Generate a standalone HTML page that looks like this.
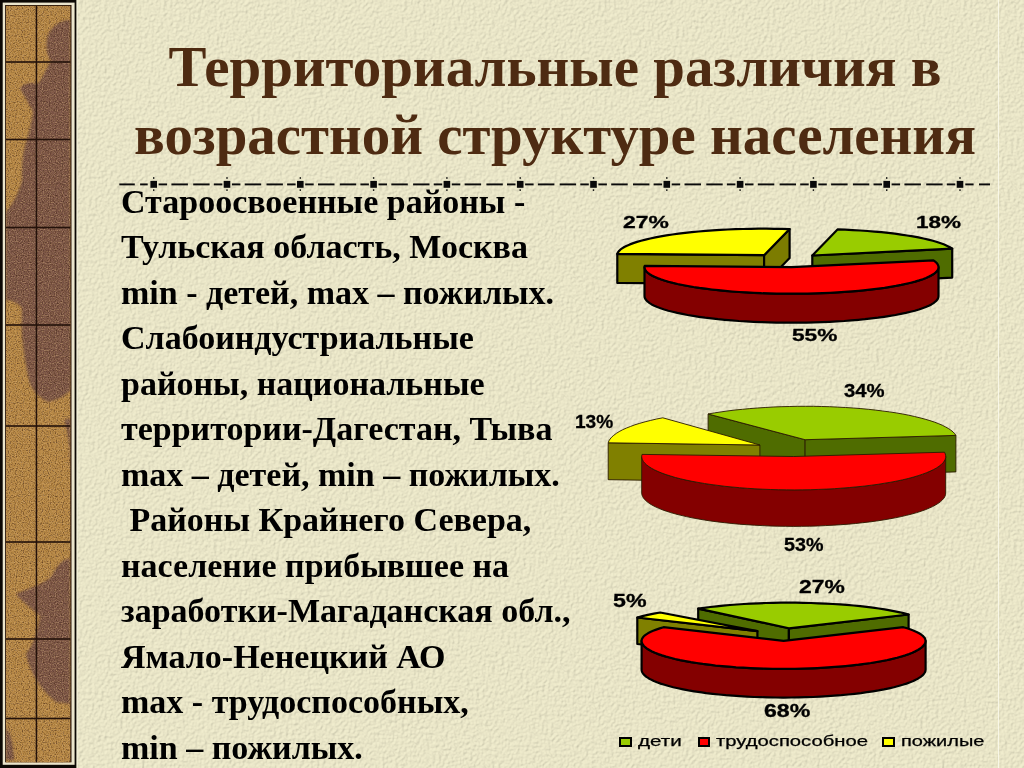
<!DOCTYPE html>
<html lang="ru">
<head>
<meta charset="utf-8">
<title>Территориальные различия в возрастной структуре населения</title>
<style>
html,body{margin:0;padding:0;}
body{width:1024px;height:768px;overflow:hidden;position:relative;background:#F3EFD0;}
svg{position:absolute;left:0;top:0;}
.title{position:absolute;left:0;width:1110px;text-align:center;font-family:"Liberation Serif","Noto Serif CJK SC",serif;font-weight:bold;font-size:56.9px;color:#4E2B12;white-space:nowrap;line-height:1;}
.t{position:absolute;left:121px;font-family:"Liberation Serif","Noto Serif CJK SC",serif;font-weight:bold;font-size:34px;color:#000;white-space:nowrap;line-height:1;}
.lb{position:absolute;font-family:"Liberation Sans","Noto Sans CJK SC",sans-serif;font-weight:bold;font-size:16px;line-height:1;color:#000;white-space:nowrap;transform-origin:0 0;-webkit-text-stroke:0.3px #000;}
.lg{position:absolute;font-family:"Liberation Sans","Noto Sans CJK SC",sans-serif;font-size:16px;line-height:1;color:#000;white-space:nowrap;transform-origin:0 0;-webkit-text-stroke:0.25px #000;}
.sq{position:absolute;border:2px solid #000;box-sizing:border-box;}
</style>
</head>
<body>
<svg id="bg" width="1024" height="768" viewBox="0 0 1024 768">
<defs>
<filter id="paper" x="0" y="0" width="1024" height="768" filterUnits="userSpaceOnUse">
<feTurbulence type="fractalNoise" baseFrequency="0.32" numOctaves="3" seed="4" result="noise"/>
<feDiffuseLighting in="noise" lighting-color="#ffffff" surfaceScale="1.3" result="light">
<feDistantLight azimuth="225" elevation="58"/>
</feDiffuseLighting>
<feFlood flood-color="#F2EECF" result="base"/>
<feComposite in="light" in2="base" operator="arithmetic" k1="0.55" k2="0" k3="0.45" k4="0"/>
</filter>
</defs>
<rect width="1024" height="768" fill="#F3EFD0" filter="url(#paper)"/>
</svg>
<div style="position:absolute;left:998px;top:0;width:1px;height:768px;background:#FAF8EA;opacity:0.9"></div>
<svg id="strip" width="78" height="768" viewBox="0 0 78 768">
<defs><filter id="gd" x="0" y="0" width="100%" height="100%"><feTurbulence type="fractalNoise" baseFrequency="0.85" numOctaves="1" seed="3" result="n"/><feColorMatrix in="n" type="matrix" values="0 0 0 0 0  0 0 0 0 0  0 0 0 0 0  -3.0 0 0 0 1.62" result="m"/><feComposite in="SourceGraphic" in2="m" operator="in"/></filter><filter id="gl" x="0" y="0" width="100%" height="100%"><feTurbulence type="fractalNoise" baseFrequency="0.85" numOctaves="1" seed="11" result="n"/><feColorMatrix in="n" type="matrix" values="0 0 0 0 0  0 0 0 0 0  0 0 0 0 0  -3.0 0 0 0 1.6" result="m"/><feComposite in="SourceGraphic" in2="m" operator="in"/></filter><filter id="soft"><feGaussianBlur stdDeviation="1.2"/></filter><clipPath id="tc"><rect x="6" y="5.9" width="64.3" height="756.4"/></clipPath></defs>
<rect x="0" y="0" width="76.6" height="768" fill="#0c0804"/>
<rect x="76.6" y="0" width="1.2" height="768" fill="#f2efd8"/>
<rect x="2.7" y="2.6" width="71.9" height="762.2" fill="#ebe5cc"/>
<rect x="5.1" y="5.0" width="66.4" height="757.3" fill="#2a160a"/>
<rect x="6.0" y="5.9" width="64.3" height="756.4" fill="#B88946"/>
<g clip-path="url(#tc)"><g filter="url(#soft)">
<path d="M70.3,20 C62,19 50,26 47,38 C45,50 48,58 52,62 L70.3,62 Z" fill="#7B5646"/>
<path d="M70.3,62 L50,62 C46,70 42,78 38,84 C31,82 24,83 20,88 C24,96 29,104 33,112 C31,124 29,133 27,140 L70.3,140 Z" fill="#7B5646"/>
<path d="M27,140 C22,152 22,166 22,180 C18,195 12,205 6,212 L6,300 C12,300 18,303 22,308 C20,330 24,360 30,384 C34,392 40,398 48,402 C58,400 66,395 71,390 L70.3,140 Z" fill="#7B5646"/>
<path d="M70.3,558 C62,560 56,566 52,576 C44,584 30,588 16,594 C24,604 34,610 40,616 C38,630 34,644 26,654 C30,672 40,690 56,702 L70.3,704 Z" fill="#7B5646"/>
<path d="M6,728 C10,732 13,740 14,760 L6,760 Z" fill="#7B5646"/>
<path d="M64,420 C68,430 70,450 70,470 L70.3,470 L70.3,418 Z" fill="#7B5646"/>
</g></g>
<rect x="6.0" y="5.9" width="64.3" height="756.4" fill="#3a1e0e" opacity="0.6" filter="url(#gd)"/>
<rect x="6.0" y="5.9" width="64.3" height="756.4" fill="#e6c08a" opacity="0.45" filter="url(#gl)"/>
<rect x="35.7" y="6" width="1.5" height="756.3" fill="#24120a"/>
<rect x="6" y="61.2" width="64.3" height="1.6" fill="#24120a"/>
<rect x="6" y="138.7" width="64.3" height="1.6" fill="#24120a"/>
<rect x="6" y="226.7" width="64.3" height="1.6" fill="#24120a"/>
<rect x="6" y="324.2" width="64.3" height="1.6" fill="#24120a"/>
<rect x="6" y="425.2" width="64.3" height="1.6" fill="#24120a"/>
<rect x="6" y="541.2" width="64.3" height="1.6" fill="#24120a"/>
<rect x="6" y="638.2" width="64.3" height="1.6" fill="#24120a"/>
<rect x="6" y="717.7" width="64.3" height="1.6" fill="#24120a"/>
</svg>

<div class="title" style="top:39.2px">Территориальные различия в</div>
<div class="title" style="top:107.2px">возрастной структуре населения</div>

<svg id="deco" width="1024" height="200" viewBox="0 0 1024 200">
<g fill="#0a0a0a">
<rect x="119.3" y="183.45" width="15.5" height="1.9"/>
<rect x="140.1" y="183.45" width="7.6" height="1.9"/>
<rect x="150.4" y="180.9" width="6.6" height="6.9"/>
<rect x="153.0" y="177.2" width="1.4" height="1.6"/>
<rect x="153.0" y="189.3" width="1.4" height="1.6"/>
<rect x="158.6" y="183.45" width="8.5" height="1.9"/>
<rect x="171.4" y="183.45" width="16.5" height="1.9"/>
<rect x="193.2" y="183.45" width="16.4" height="1.9"/>
<rect x="213.8" y="183.45" width="8.5" height="1.9"/>
<rect x="223.7" y="180.9" width="6.6" height="6.9"/>
<rect x="226.3" y="177.2" width="1.4" height="1.6"/>
<rect x="226.3" y="189.3" width="1.4" height="1.6"/>
<rect x="231.9" y="183.45" width="8.5" height="1.9"/>
<rect x="244.7" y="183.45" width="16.5" height="1.9"/>
<rect x="266.5" y="183.45" width="16.4" height="1.9"/>
<rect x="287.1" y="183.45" width="8.5" height="1.9"/>
<rect x="297.0" y="180.9" width="6.6" height="6.9"/>
<rect x="299.6" y="177.2" width="1.4" height="1.6"/>
<rect x="299.6" y="189.3" width="1.4" height="1.6"/>
<rect x="305.2" y="183.45" width="8.5" height="1.9"/>
<rect x="318.0" y="183.45" width="16.5" height="1.9"/>
<rect x="339.8" y="183.45" width="16.4" height="1.9"/>
<rect x="360.4" y="183.45" width="8.5" height="1.9"/>
<rect x="370.3" y="180.9" width="6.6" height="6.9"/>
<rect x="372.9" y="177.2" width="1.4" height="1.6"/>
<rect x="372.9" y="189.3" width="1.4" height="1.6"/>
<rect x="378.5" y="183.45" width="8.5" height="1.9"/>
<rect x="391.3" y="183.45" width="16.5" height="1.9"/>
<rect x="413.1" y="183.45" width="16.4" height="1.9"/>
<rect x="433.7" y="183.45" width="8.5" height="1.9"/>
<rect x="443.6" y="180.9" width="6.6" height="6.9"/>
<rect x="446.2" y="177.2" width="1.4" height="1.6"/>
<rect x="446.2" y="189.3" width="1.4" height="1.6"/>
<rect x="451.8" y="183.45" width="8.5" height="1.9"/>
<rect x="464.6" y="183.45" width="16.5" height="1.9"/>
<rect x="486.4" y="183.45" width="16.4" height="1.9"/>
<rect x="507.0" y="183.45" width="8.5" height="1.9"/>
<rect x="516.9" y="180.9" width="6.6" height="6.9"/>
<rect x="519.5" y="177.2" width="1.4" height="1.6"/>
<rect x="519.5" y="189.3" width="1.4" height="1.6"/>
<rect x="525.1" y="183.45" width="8.5" height="1.9"/>
<rect x="537.9" y="183.45" width="16.5" height="1.9"/>
<rect x="559.7" y="183.45" width="16.4" height="1.9"/>
<rect x="580.3" y="183.45" width="8.5" height="1.9"/>
<rect x="590.2" y="180.9" width="6.6" height="6.9"/>
<rect x="592.8" y="177.2" width="1.4" height="1.6"/>
<rect x="592.8" y="189.3" width="1.4" height="1.6"/>
<rect x="598.4" y="183.45" width="8.5" height="1.9"/>
<rect x="611.2" y="183.45" width="16.5" height="1.9"/>
<rect x="633.0" y="183.45" width="16.4" height="1.9"/>
<rect x="653.6" y="183.45" width="8.5" height="1.9"/>
<rect x="663.5" y="180.9" width="6.6" height="6.9"/>
<rect x="666.1" y="177.2" width="1.4" height="1.6"/>
<rect x="666.1" y="189.3" width="1.4" height="1.6"/>
<rect x="671.7" y="183.45" width="8.5" height="1.9"/>
<rect x="684.5" y="183.45" width="16.5" height="1.9"/>
<rect x="706.3" y="183.45" width="16.4" height="1.9"/>
<rect x="726.9" y="183.45" width="8.5" height="1.9"/>
<rect x="736.8" y="180.9" width="6.6" height="6.9"/>
<rect x="739.4" y="177.2" width="1.4" height="1.6"/>
<rect x="739.4" y="189.3" width="1.4" height="1.6"/>
<rect x="745.0" y="183.45" width="8.5" height="1.9"/>
<rect x="757.8" y="183.45" width="16.5" height="1.9"/>
<rect x="779.6" y="183.45" width="16.4" height="1.9"/>
<rect x="800.2" y="183.45" width="8.5" height="1.9"/>
<rect x="810.1" y="180.9" width="6.6" height="6.9"/>
<rect x="812.7" y="177.2" width="1.4" height="1.6"/>
<rect x="812.7" y="189.3" width="1.4" height="1.6"/>
<rect x="818.3" y="183.45" width="8.5" height="1.9"/>
<rect x="831.1" y="183.45" width="16.5" height="1.9"/>
<rect x="852.9" y="183.45" width="16.4" height="1.9"/>
<rect x="873.5" y="183.45" width="8.5" height="1.9"/>
<rect x="883.4" y="180.9" width="6.6" height="6.9"/>
<rect x="886.0" y="177.2" width="1.4" height="1.6"/>
<rect x="886.0" y="189.3" width="1.4" height="1.6"/>
<rect x="891.6" y="183.45" width="8.5" height="1.9"/>
<rect x="904.4" y="183.45" width="16.5" height="1.9"/>
<rect x="926.2" y="183.45" width="16.4" height="1.9"/>
<rect x="946.8" y="183.45" width="8.5" height="1.9"/>
<rect x="956.7" y="180.9" width="6.6" height="6.9"/>
<rect x="959.3" y="177.2" width="1.4" height="1.6"/>
<rect x="959.3" y="189.3" width="1.4" height="1.6"/>
<rect x="965.3" y="183.45" width="8.3" height="1.9"/>
<rect x="979.0" y="183.45" width="11.0" height="1.9"/>
</g></svg>

<div class="t" style="top:184.8px">Староосвоенные районы -</div>
<div class="t" style="top:230.3px">Тульская область, Москва</div>
<div class="t" style="top:275.7px">min - детей, max – пожилых.</div>
<div class="t" style="top:321.2px">Слабоиндустриальные</div>
<div class="t" style="top:366.7px">районы, национальные</div>
<div class="t" style="top:412.2px">территории-Дагестан, Тыва</div>
<div class="t" style="top:457.6px">max – детей, min – пожилых.</div>
<div class="t" style="top:503.1px">&nbsp;Районы Крайнего Севера,</div>
<div class="t" style="top:548.6px">население прибывшее на</div>
<div class="t" style="top:594.0px">заработки-Магаданская обл.,</div>
<div class="t" style="top:639.5px">Ямало-Ненецкий АО</div>
<div class="t" style="top:685.0px">max - трудоспособных,</div>
<div class="t" style="top:730.5px">min – пожилых.</div>

<svg id="charts" width="1024" height="768" viewBox="0 0 1024 768">
<path d="M764.1,255.2 L617.3,253.9 L617.3,282.9 L764.1,284.2 Z" fill="#808000" stroke="#000" stroke-width="2.2" stroke-linejoin="round"/>
<path d="M764.1,255.2 L789.6,229.1 L789.6,258.1 L764.1,284.2 Z" fill="#7C7C00" stroke="#000" stroke-width="2.2" stroke-linejoin="round"/>
<path d="M764.1,255.2 L617.3,253.9 L617.9,252.5 L618.9,251.1 L620.3,249.7 L622.1,248.4 L624.3,247.0 L626.9,245.7 L629.9,244.4 L633.3,243.1 L637.0,241.9 L641.1,240.7 L645.5,239.6 L650.3,238.5 L655.4,237.4 L660.8,236.4 L666.4,235.4 L672.4,234.5 L678.6,233.7 L685.1,232.9 L691.8,232.2 L698.6,231.5 L705.7,230.9 L712.9,230.4 L720.3,229.9 L727.8,229.5 L735.4,229.2 L743.1,229.0 L750.8,228.8 L758.6,228.7 L766.4,228.7 L774.2,228.8 L781.9,228.9 L789.6,229.1 Z" fill="#FFFF00" stroke="#000" stroke-width="2.2" stroke-linejoin="round"/>
<path d="M812.3,255.5 L952.2,248.6 L952.2,277.6 L812.3,284.5 Z" fill="#4F6C00" stroke="#000" stroke-width="2.2" stroke-linejoin="round"/>
<path d="M812.3,255.5 L837.5,229.4 L845.1,229.7 L852.7,230.1 L860.1,230.5 L867.4,231.0 L874.5,231.6 L881.5,232.2 L888.3,232.9 L894.8,233.7 L901.1,234.6 L907.1,235.5 L912.9,236.4 L918.4,237.4 L923.5,238.5 L928.4,239.6 L932.9,240.8 L937.0,242.0 L940.8,243.3 L944.3,244.5 L947.3,245.9 L950.0,247.2 L952.2,248.6 Z" fill="#99CC00" stroke="#000" stroke-width="2.2" stroke-linejoin="round"/>
<path d="M938.5,267.2 L938.3,268.6 L937.7,270.0 L936.7,271.4 L935.3,272.7 L933.5,274.1 L931.4,275.4 L928.8,276.7 L925.8,278.0 L922.5,279.2 L918.9,280.5 L914.8,281.7 L910.5,282.8 L905.8,283.9 L900.8,284.9 L895.5,286.0 L889.9,286.9 L884.1,287.8 L878.0,288.7 L871.6,289.4 L865.0,290.2 L858.3,290.8 L851.3,291.4 L844.2,292.0 L837.0,292.4 L829.6,292.8 L822.1,293.1 L814.5,293.4 L806.9,293.6 L799.2,293.7 L791.5,293.7 L783.9,293.7 L776.2,293.6 L768.6,293.4 L761.0,293.1 L753.5,292.8 L746.1,292.4 L738.9,292.0 L731.8,291.4 L724.8,290.8 L718.0,290.2 L711.5,289.4 L705.1,288.7 L699.0,287.8 L693.2,286.9 L687.6,286.0 L682.3,284.9 L677.3,283.9 L672.6,282.8 L668.3,281.7 L664.2,280.5 L660.6,279.2 L657.3,278.0 L654.3,276.7 L651.7,275.4 L649.6,274.1 L647.8,272.7 L646.4,271.4 L645.4,270.0 L644.7,268.6 L644.5,267.2 L644.5,296.2 L644.7,297.6 L645.4,299.0 L646.4,300.4 L647.8,301.7 L649.6,303.1 L651.7,304.4 L654.3,305.7 L657.3,307.0 L660.6,308.2 L664.2,309.5 L668.3,310.7 L672.6,311.8 L677.3,312.9 L682.3,313.9 L687.6,315.0 L693.2,315.9 L699.0,316.8 L705.1,317.7 L711.5,318.4 L718.0,319.2 L724.8,319.8 L731.8,320.4 L738.9,321.0 L746.1,321.4 L753.5,321.8 L761.0,322.1 L768.6,322.4 L776.2,322.6 L783.9,322.7 L791.5,322.7 L799.2,322.7 L806.9,322.6 L814.5,322.4 L822.1,322.1 L829.6,321.8 L837.0,321.4 L844.2,321.0 L851.3,320.4 L858.3,319.8 L865.0,319.2 L871.6,318.4 L878.0,317.7 L884.1,316.8 L889.9,315.9 L895.5,315.0 L900.8,313.9 L905.8,312.9 L910.5,311.8 L914.8,310.7 L918.9,309.5 L922.5,308.2 L925.8,307.0 L928.8,305.7 L931.4,304.4 L933.5,303.1 L935.3,301.7 L936.7,300.4 L937.7,299.0 L938.3,297.6 L938.5,296.2 Z" fill="#840000" stroke="#000" stroke-width="2.2" stroke-linejoin="round"/>
<path d="M791.5,267.2 L933.4,260.3 L935.2,261.6 L936.7,263.0 L937.7,264.4 L938.3,265.7 L938.5,267.1 L938.4,268.5 L937.8,269.9 L936.8,271.3 L935.4,272.6 L933.7,274.0 L931.5,275.3 L929.0,276.6 L926.0,277.9 L922.8,279.2 L919.1,280.4 L915.1,281.6 L910.8,282.7 L906.1,283.8 L901.1,284.9 L895.9,285.9 L890.3,286.8 L884.5,287.8 L878.4,288.6 L872.0,289.4 L865.5,290.1 L858.7,290.8 L851.8,291.4 L844.7,291.9 L837.5,292.4 L830.1,292.8 L822.6,293.1 L815.1,293.4 L807.4,293.6 L799.8,293.7 L792.1,293.7 L784.4,293.7 L776.7,293.6 L769.1,293.4 L761.5,293.2 L754.0,292.8 L746.6,292.4 L739.3,292.0 L732.2,291.5 L725.3,290.9 L718.5,290.2 L711.9,289.5 L705.6,288.7 L699.4,287.9 L693.6,287.0 L688.0,286.0 L682.7,285.0 L677.6,284.0 L672.9,282.9 L668.5,281.7 L664.5,280.5 L660.8,279.3 L657.5,278.1 L654.5,276.8 L651.9,275.5 L649.7,274.2 L647.9,272.8 L646.4,271.5 L645.4,270.1 L644.8,268.7 L644.5,267.3 L644.7,265.9 Z" fill="#FF0000" stroke="#000" stroke-width="2.2" stroke-linejoin="round"/>
<path d="M805.1,439.7 L708.1,414.0 L708.1,450.5 L805.1,476.2 Z" fill="#4F6C00" stroke="#2a1a00" stroke-width="0.9" stroke-linejoin="round"/>
<path d="M805.1,439.7 L955.9,435.4 L955.9,471.9 L805.1,476.2 Z" fill="#4F6C00" stroke="#2a1a00" stroke-width="0.9" stroke-linejoin="round"/>
<path d="M805.1,439.7 L708.1,414.0 L714.4,412.9 L721.1,411.9 L728.0,410.9 L735.1,410.0 L742.4,409.3 L749.8,408.6 L757.5,408.0 L765.2,407.5 L773.1,407.0 L781.1,406.7 L789.2,406.5 L797.2,406.3 L805.4,406.3 L813.5,406.3 L821.6,406.5 L829.6,406.7 L837.6,407.1 L845.5,407.5 L853.2,408.0 L860.9,408.6 L868.3,409.3 L875.6,410.1 L882.7,411.0 L889.6,411.9 L896.2,412.9 L902.6,414.0 L908.7,415.2 L914.5,416.5 L919.9,417.8 L925.1,419.2 L929.9,420.6 L934.4,422.1 L938.4,423.6 L942.2,425.2 L945.5,426.9 L948.4,428.5 L950.9,430.2 L953.0,431.9 L954.7,433.7 L955.9,435.4 Z" fill="#99CC00" stroke="#2a1a00" stroke-width="0.9" stroke-linejoin="round"/>
<path d="M759.9,445.0 L608.2,442.8 L608.2,479.7 L759.9,481.9 Z" fill="#808000" stroke="#2a1a00" stroke-width="0.9" stroke-linejoin="round"/>
<path d="M759.9,445.0 L608.2,442.8 L608.9,440.9 L610.1,439.0 L611.7,437.1 L613.8,435.3 L616.3,433.4 L619.2,431.6 L622.5,429.8 L626.3,428.1 L630.4,426.5 L634.9,424.8 L639.8,423.3 L645.1,421.8 L650.7,420.4 L656.6,419.0 L662.8,417.8 Z" fill="#FFFF00" stroke="#2a1a00" stroke-width="0.9" stroke-linejoin="round"/>
<path d="M945.7,456.5 L945.5,458.2 L944.9,460.0 L943.9,461.7 L942.4,463.4 L940.6,465.1 L938.3,466.8 L935.6,468.4 L932.6,470.1 L929.2,471.6 L925.4,473.2 L921.2,474.7 L916.7,476.1 L911.9,477.5 L906.7,478.8 L901.2,480.1 L895.4,481.3 L889.4,482.4 L883.1,483.5 L876.5,484.5 L869.7,485.4 L862.7,486.2 L855.6,487.0 L848.2,487.7 L840.7,488.2 L833.1,488.7 L825.3,489.1 L817.5,489.5 L809.6,489.7 L801.7,489.8 L793.7,489.9 L785.8,489.8 L777.8,489.7 L770.0,489.5 L762.1,489.1 L754.4,488.7 L746.8,488.2 L739.3,487.7 L731.9,487.0 L724.7,486.2 L717.7,485.4 L710.9,484.5 L704.4,483.5 L698.1,482.4 L692.0,481.3 L686.3,480.1 L680.8,478.8 L675.6,477.5 L670.8,476.1 L666.3,474.7 L662.1,473.2 L658.3,471.6 L654.9,470.1 L651.8,468.4 L649.2,466.8 L646.9,465.1 L645.1,463.4 L643.6,461.7 L642.6,460.0 L641.9,458.2 L641.7,456.5 L641.7,493.0 L641.9,494.7 L642.6,496.5 L643.6,498.2 L645.1,499.9 L646.9,501.6 L649.2,503.3 L651.8,504.9 L654.9,506.6 L658.3,508.1 L662.1,509.7 L666.3,511.2 L670.8,512.6 L675.6,514.0 L680.8,515.3 L686.3,516.6 L692.0,517.8 L698.1,518.9 L704.4,520.0 L710.9,521.0 L717.7,521.9 L724.7,522.7 L731.9,523.5 L739.3,524.2 L746.8,524.7 L754.4,525.2 L762.1,525.6 L770.0,526.0 L777.8,526.2 L785.8,526.3 L793.7,526.4 L801.7,526.3 L809.6,526.2 L817.5,526.0 L825.3,525.6 L833.1,525.2 L840.7,524.7 L848.2,524.2 L855.6,523.5 L862.7,522.7 L869.7,521.9 L876.5,521.0 L883.1,520.0 L889.4,518.9 L895.4,517.8 L901.2,516.6 L906.7,515.3 L911.9,514.0 L916.7,512.6 L921.2,511.2 L925.4,509.7 L929.2,508.1 L932.6,506.6 L935.6,504.9 L938.3,503.3 L940.6,501.6 L942.4,499.9 L943.9,498.2 L944.9,496.5 L945.5,494.7 L945.7,493.0 Z" fill="#840000" stroke="#2a1a00" stroke-width="0.9" stroke-linejoin="round"/>
<path d="M793.7,456.5 L944.5,452.2 L945.3,454.0 L945.7,455.8 L945.7,457.5 L945.2,459.3 L944.3,461.0 L943.0,462.8 L941.3,464.5 L939.1,466.2 L936.6,467.9 L933.7,469.5 L930.3,471.1 L926.6,472.7 L922.5,474.2 L918.1,475.7 L913.3,477.1 L908.2,478.5 L902.7,479.8 L897.0,481.0 L890.9,482.2 L884.6,483.2 L878.1,484.3 L871.3,485.2 L864.3,486.1 L857.0,486.8 L849.7,487.5 L842.1,488.1 L834.4,488.7 L826.6,489.1 L818.7,489.4 L810.8,489.7 L802.8,489.8 L794.8,489.9 L786.7,489.8 L778.7,489.7 L770.7,489.5 L762.8,489.2 L755.0,488.8 L747.3,488.3 L739.7,487.7 L732.3,487.0 L725.0,486.3 L718.0,485.4 L711.1,484.5 L704.5,483.5 L698.1,482.4 L692.0,481.3 L686.2,480.1 L680.6,478.8 L675.4,477.5 L670.6,476.0 L666.0,474.6 L661.9,473.1 L658.0,471.5 L654.6,469.9 L651.6,468.3 L648.9,466.6 L646.7,464.9 L644.9,463.2 L643.4,461.5 L642.5,459.7 L641.9,458.0 L641.7,456.2 L642.0,454.4 Z" fill="#FF0000" stroke="#2a1a00" stroke-width="0.9" stroke-linejoin="round"/>
<path d="M788.9,628.3 L698.2,608.6 L698.2,635.1 L788.9,654.8 Z" fill="#4F6C00" stroke="#000" stroke-width="2.2" stroke-linejoin="round"/>
<path d="M788.9,628.3 L908.6,614.5 L908.6,641.0 L788.9,654.8 Z" fill="#4F6C00" stroke="#000" stroke-width="2.2" stroke-linejoin="round"/>
<path d="M788.9,628.3 L698.2,608.6 L704.1,607.8 L710.2,607.0 L716.6,606.3 L723.2,605.6 L730.0,605.0 L736.9,604.5 L744.0,604.0 L751.2,603.6 L758.5,603.3 L765.9,603.0 L773.3,602.9 L780.8,602.7 L788.4,602.7 L795.9,602.7 L803.4,602.8 L810.9,603.0 L818.3,603.3 L825.6,603.6 L832.8,604.0 L839.9,604.4 L846.8,604.9 L853.6,605.5 L860.2,606.2 L866.6,606.9 L872.8,607.7 L878.8,608.5 L884.5,609.4 L889.9,610.3 L895.0,611.3 L899.9,612.3 L904.4,613.4 L908.6,614.5 Z" fill="#99CC00" stroke="#000" stroke-width="2.2" stroke-linejoin="round"/>
<path d="M757.4,631.2 L637.3,617.5 L637.3,644.0 L757.4,657.7 Z" fill="#808000" stroke="#000" stroke-width="2.2" stroke-linejoin="round"/>
<path d="M757.4,631.2 L637.3,617.5 L642.4,616.1 L647.9,614.9 L653.8,613.6 L660.2,612.5 Z" fill="#FFFF00" stroke="#000" stroke-width="2.2" stroke-linejoin="round"/>
<path d="M925.6,640.9 L925.4,642.3 L924.8,643.8 L923.8,645.3 L922.5,646.7 L920.7,648.1 L918.6,649.5 L916.1,650.9 L913.3,652.3 L910.1,653.6 L906.5,654.9 L902.7,656.1 L898.4,657.3 L893.9,658.5 L889.1,659.6 L884.0,660.7 L878.6,661.7 L872.9,662.6 L867.0,663.5 L860.9,664.4 L854.6,665.1 L848.0,665.8 L841.3,666.5 L834.4,667.0 L827.4,667.5 L820.3,667.9 L813.1,668.3 L805.8,668.5 L798.4,668.7 L791.0,668.8 L783.6,668.9 L776.1,668.8 L768.7,668.7 L761.3,668.5 L754.0,668.3 L746.8,667.9 L739.7,667.5 L732.7,667.0 L725.8,666.5 L719.1,665.8 L712.6,665.1 L706.2,664.4 L700.1,663.5 L694.2,662.6 L688.5,661.7 L683.2,660.7 L678.0,659.6 L673.2,658.5 L668.7,657.3 L664.5,656.1 L660.6,654.9 L657.0,653.6 L653.8,652.3 L651.0,650.9 L648.5,649.5 L646.4,648.1 L644.7,646.7 L643.3,645.3 L642.3,643.8 L641.8,642.3 L641.6,640.9 L641.6,669.6 L641.8,671.0 L642.3,672.5 L643.3,674.0 L644.7,675.4 L646.4,676.8 L648.5,678.2 L651.0,679.6 L653.8,681.0 L657.0,682.3 L660.6,683.6 L664.5,684.8 L668.7,686.0 L673.2,687.2 L678.0,688.3 L683.2,689.4 L688.5,690.4 L694.2,691.3 L700.1,692.2 L706.2,693.1 L712.6,693.8 L719.1,694.5 L725.8,695.2 L732.7,695.7 L739.7,696.2 L746.8,696.6 L754.0,697.0 L761.3,697.2 L768.7,697.4 L776.1,697.5 L783.6,697.6 L791.0,697.5 L798.4,697.4 L805.8,697.2 L813.1,697.0 L820.3,696.6 L827.4,696.2 L834.4,695.7 L841.3,695.2 L848.0,694.5 L854.6,693.8 L860.9,693.1 L867.0,692.2 L872.9,691.3 L878.6,690.4 L884.0,689.4 L889.1,688.3 L893.9,687.2 L898.4,686.0 L902.7,684.8 L906.5,683.6 L910.1,682.3 L913.3,681.0 L916.1,679.6 L918.6,678.2 L920.7,676.8 L922.5,675.4 L923.8,674.0 L924.8,672.5 L925.4,671.0 L925.6,669.6 Z" fill="#840000" stroke="#000" stroke-width="2.2" stroke-linejoin="round"/>
<path d="M783.6,640.9 L903.3,627.2 L907.2,628.3 L910.7,629.5 L913.8,630.7 L916.6,632.0 L919.1,633.3 L921.1,634.5 L922.8,635.9 L924.1,637.2 L925.0,638.5 L925.4,639.9 L925.5,641.2 L925.3,642.7 L924.6,644.2 L923.5,645.6 L922.0,647.1 L920.2,648.5 L917.9,649.9 L915.3,651.3 L912.3,652.7 L909.0,654.0 L905.3,655.3 L901.3,656.5 L897.0,657.7 L892.3,658.9 L887.3,660.0 L882.1,661.0 L876.5,662.0 L870.7,663.0 L864.7,663.8 L858.5,664.7 L852.0,665.4 L845.3,666.1 L838.5,666.7 L831.5,667.2 L824.4,667.7 L817.2,668.1 L809.9,668.4 L802.5,668.6 L795.0,668.8 L787.6,668.9 L780.1,668.9 L772.6,668.8 L765.1,668.6 L757.7,668.4 L750.4,668.1 L743.2,667.7 L736.1,667.3 L729.1,666.7 L722.2,666.1 L715.6,665.5 L709.1,664.7 L702.8,663.9 L696.8,663.0 L691.0,662.1 L685.4,661.1 L680.1,660.1 L675.2,659.0 L670.5,657.8 L666.1,656.6 L662.1,655.4 L658.4,654.1 L655.0,652.8 L652.0,651.4 L649.4,650.0 L647.1,648.6 L645.2,647.2 L643.7,645.7 L642.6,644.3 L641.9,642.8 L641.6,641.3 L641.7,639.9 L642.1,638.6 L643.0,637.3 L644.2,635.9 L645.9,634.6 L647.9,633.3 L650.3,632.1 L653.1,630.8 L656.2,629.6 L659.7,628.4 L663.5,627.2 Z" fill="#FF0000" stroke="#000" stroke-width="2.2" stroke-linejoin="round"/>
</svg>

<div class="lb" style="left:623.0px;top:213.5px;font-size:16.30px;transform:scaleX(1.405)">27%</div>
<div class="lb" style="left:916.0px;top:213.7px;font-size:16.30px;transform:scaleX(1.381)">18%</div>
<div class="lb" style="left:792.0px;top:327.0px;font-size:16.30px;transform:scaleX(1.391)">55%</div>
<div class="lb" style="left:844.0px;top:381.7px;font-size:18.80px;transform:scaleX(1.081)">34%</div>
<div class="lb" style="left:575.0px;top:412.9px;font-size:18.80px;transform:scaleX(1.017)">13%</div>
<div class="lb" style="left:784.0px;top:535.9px;font-size:18.80px;transform:scaleX(1.050)">53%</div>
<div class="lb" style="left:613.0px;top:593.1px;font-size:17.80px;transform:scaleX(1.304)">5%</div>
<div class="lb" style="left:799.0px;top:579.1px;font-size:17.80px;transform:scaleX(1.284)">27%</div>
<div class="lb" style="left:764.0px;top:703.3px;font-size:17.80px;transform:scaleX(1.299)">68%</div>
<div class="lg" style="left:638.0px;top:734.4px;font-size:14.00px;transform:scaleX(1.474)">дети</div>
<div class="lg" style="left:716.0px;top:734.4px;font-size:14.00px;transform:scaleX(1.445)">трудоспособное</div>
<div class="lg" style="left:900.8px;top:734.4px;font-size:14.00px;transform:scaleX(1.427)">пожилые</div>
<div class="sq" style="left:619.3px;top:737px;width:12.5px;height:9.6px;background:#99CC00"></div>
<div class="sq" style="left:697.6px;top:737px;width:12.5px;height:9.6px;background:#FF0000"></div>
<div class="sq" style="left:882.3px;top:737px;width:12.5px;height:9.6px;background:#FFFF00"></div>
</body>
</html>
